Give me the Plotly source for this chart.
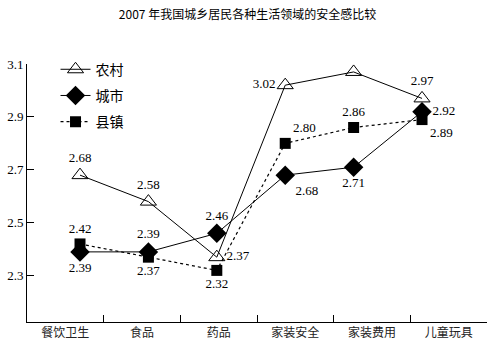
import plotly.graph_objects as go

categories = ["餐饮卫生", "食品", "药品", "家装安全", "家装费用", "儿童玩具"]
rural = [2.68, 2.58, 2.37, 3.02, 3.07, 2.97]
urban = [2.39, 2.39, 2.46, 2.68, 2.71, 2.92]
town = [2.42, 2.37, 2.32, 2.80, 2.86, 2.89]
y_ticks = [2.3, 2.5, 2.7, 2.9, 3.1]

rural_pos = ["top center", "top center", "middle right", "middle left", "top right", "top center"]
urban_pos = ["bottom center", "top center", "top center", "bottom right", "bottom center", "middle right"]
town_pos = ["top center", "bottom center", "bottom center", "top right", "top center", "bottom right"]

idx = list(range(len(categories)))
num_font = dict(family="Liberation Serif", size=13, color="black")

fig = go.Figure()
fig.add_trace(go.Scatter(
    x=idx, y=rural, name="农村", mode="lines+markers+text",
    line=dict(color="black", width=1),
    marker=dict(symbol="triangle-up-open", size=14, color="black", line=dict(width=1)),
    text=[f"{v:.2f}" for v in rural], textposition=rural_pos, textfont=num_font,
    legendgroup="a"))
fig.add_trace(go.Scatter(
    x=idx, y=urban, name="城市", mode="lines+markers+text",
    line=dict(color="black", width=1),
    marker=dict(symbol="diamond", size=15, color="black"),
    text=[f"{v:.2f}" for v in urban], textposition=urban_pos, textfont=num_font,
    legendgroup="b"))
fig.add_trace(go.Scatter(
    x=idx, y=town, name="县镇", mode="lines+markers+text",
    line=dict(color="black", width=1.2, dash="3px,3px"),
    marker=dict(symbol="square", size=11, color="black"),
    text=[f"{v:.2f}" for v in town], textposition=town_pos, textfont=num_font,
    legendgroup="c"))
# category axis carrier (invisible)
fig.add_trace(go.Scatter(
    x=categories, y=urban, xaxis="x2", mode="markers",
    marker=dict(opacity=0), showlegend=False, hoverinfo="skip"))

fig.update_layout(
    width=495, height=351,
    margin=dict(l=27, r=8, t=64, b=29),
    paper_bgcolor="white", plot_bgcolor="white",
    title=dict(text="2007 年我国城乡居民各种生活领域的安全感比较",
               x=0.5, xanchor="center", y=0.957, yanchor="middle",
               font=dict(family="Noto Sans CJK SC", size=12, color="black")),
    xaxis=dict(range=[-0.775, 5.95], visible=False, showgrid=False, zeroline=False),
    xaxis2=dict(type="category", categoryorder="array", categoryarray=categories,
                range=[-0.5, 5.5], overlaying="x", anchor="y", side="bottom",
                showline=True, linecolor="black", linewidth=1,
                ticks="inside", ticklen=7, tickcolor="black", tickson="boundaries",
                showgrid=False, zeroline=False,
                tickfont=dict(family="Noto Sans CJK SC", size=12, color="#222")),
    yaxis=dict(range=[2.125, 3.1], tickvals=y_ticks, ticktext=[f"{v:.1f}" for v in y_ticks],
               showline=True, linecolor="black", linewidth=1,
               ticks="inside", ticklen=7, tickcolor="black",
               showgrid=False, zeroline=False,
               tickfont=dict(family="Liberation Serif", size=13, color="black")),
    legend=dict(x=0.062, y=1.04, xanchor="left", yanchor="top",
                bgcolor="rgba(0,0,0,0)", tracegroupgap=5,
                font=dict(family="Noto Sans CJK SC", size=14, color="black")),
    showlegend=True,
)

fig.write_html("out.html")
